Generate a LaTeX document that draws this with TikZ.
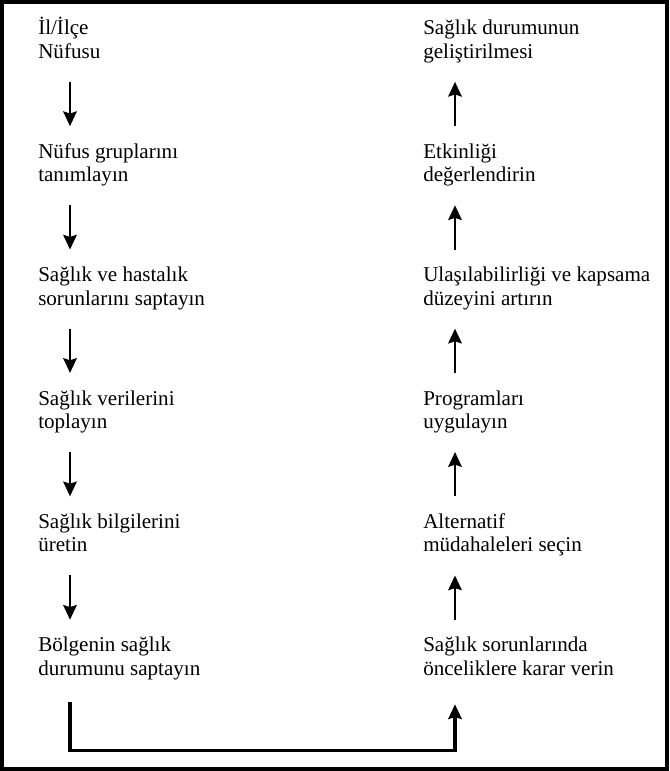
\documentclass[tikz,border=0pt]{standalone}
\usepackage{fontspec}
\setmainfont{Liberation Serif}
\usetikzlibrary{arrows.meta,calc}
\begin{document}
\begin{tikzpicture}[x=0.75pt,y=-0.75pt,
  stage/.style={anchor=base west, inner sep=0pt, align=left,
    font=\fontsize{15.8pt}{17.5pt}\selectfont},
  flow/.style={line width=2.2pt,
    -{Stealth[length=11pt,width=10pt,inset=1.5pt]}},
  link/.style={line width=2.4pt}]
\useasboundingbox (0,0) rectangle (669,771);
% frame
\draw[line width=3pt] (2,2) rectangle (667,769);
% arrow axes of the two columns
\coordinate (axL) at (70,0);
\coordinate (axR) at (455,0);
% left column (nodes placed by the baseline of their last line)
\node[stage] (l1) at (38,58.3)  {İl/İlçe\\Nüfusu};
\node[stage] (l2) at (38,181.7) {Nüfus gruplarını\\tanımlayın};
\node[stage] (l3) at (38,305.1) {Sağlık ve hastalık\\sorunlarını saptayın};
\node[stage] (l4) at (38,428.5) {Sağlık verilerini\\toplayın};
\node[stage] (l5) at (38,551.9) {Sağlık bilgilerini\\üretin};
\node[stage] (l6) at (38,675.3) {Bölgenin sağlık\\durumunu saptayın};
% right column
\node[stage] (r1) at (423,58.3)  {Sağlık durumunun\\geliştirilmesi};
\node[stage] (r2) at (423,181.7) {Etkinliği\\değerlendirin};
\node[stage] (r3) at (423,305.1) {Ulaşılabilirliği ve kapsama\\düzeyini artırın};
\node[stage] (r4) at (423,428.5) {Programları\\uygulayın};
\node[stage] (r5) at (423,551.9) {Alternatif\\müdahaleleri seçin};
\node[stage] (r6) at (423,675.3) {Sağlık sorunlarında\\önceliklere karar verin};
% downward steps
\foreach \a/\b in {l1/l2,l2/l3,l3/l4,l4/l5,l5/l6}
  \draw[flow] ($(axL |- \a.base)+(0,23.5)$) -- ($(axL |- \b.base)+(0,-55.5)$);
% upward steps
\foreach \a/\b in {r6/r5,r5/r4,r4/r3,r3/r2,r2/r1}
  \draw[flow] ($(axR |- \a.base)+(0,-55.5)$) -- ($(axR |- \b.base)+(0,23.5)$);
% link from the left column to the right one
\coordinate (low) at ($(l6.base)+(0,75)$);
\draw[link, -{Stealth[length=11pt,width=10pt,inset=1.5pt]}]
  ($(axL |- l6.base)+(0,27)$) -- (axL |- low) -- (axR |- low)
  -- ($(axR |- r6.base)+(0,29)$);
\end{tikzpicture}
\end{document}
